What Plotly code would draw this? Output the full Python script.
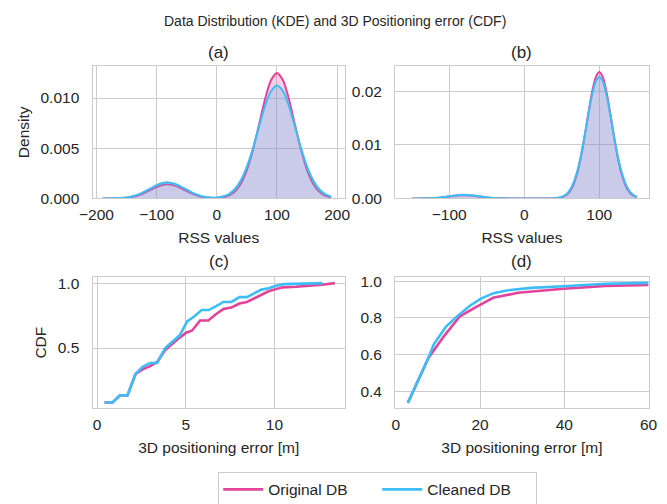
import plotly.graph_objects as go

# ---------------- data ----------------
# (a) KDE of RSS values, database 1
kde_a_x = [-190, -180, -170, -160, -150, -140, -130, -120, -110, -100, -90, -80, -70, -60,
           -50, -40, -30, -20, -10, 0, 10, 20, 30, 40, 50, 60, 70, 80, 90, 100, 110, 120,
           130, 140, 150, 160, 170, 180, 190]
kde_a_original = [0.00000, 0.00000, 0.00001, 0.00003, 0.00007, 0.00016, 0.00032, 0.00056,
                  0.00085, 0.00114, 0.00134, 0.00140, 0.00128, 0.00103, 0.00073, 0.00046,
                  0.00025, 0.00012, 0.00006, 0.00005, 0.00011, 0.00028, 0.00068, 0.00147,
                  0.00282, 0.00482, 0.00731, 0.00984, 0.01176, 0.01248, 0.01176, 0.00984,
                  0.00731, 0.00482, 0.00282, 0.00147, 0.00068, 0.00028, 0.00010]
kde_a_cleaned = [0.00000, 0.00001, 0.00002, 0.00004, 0.00010, 0.00022, 0.00041, 0.00068,
                 0.00100, 0.00132, 0.00154, 0.00160, 0.00147, 0.00120, 0.00087, 0.00056,
                 0.00032, 0.00016, 0.00008, 0.00010, 0.00020, 0.00044, 0.00094, 0.00181,
                 0.00316, 0.00499, 0.00712, 0.00918, 0.01068, 0.01124, 0.01068, 0.00918,
                 0.00712, 0.00499, 0.00316, 0.00181, 0.00094, 0.00044, 0.00019]

# (b) KDE of RSS values, database 2
kde_b_x = [-150, -140, -130, -120, -110, -100, -90, -80, -70, -60, -50, -40, -30, -20, -10,
           0, 10, 20, 30, 40, 45, 50, 55, 60, 65, 70, 75, 80, 85, 90, 95, 100, 105, 110,
           115, 120, 125, 130, 135, 140, 145, 150]
kde_b_original = [0.00000, 0.00001, 0.00003, 0.00008, 0.00020, 0.00036, 0.00053, 0.00060,
                  0.00053, 0.00036, 0.00020, 0.00008, 0.00003, 0.00001, 0.00000, 0.00000,
                  0.00000, 0.00000, 0.00000, 0.00003, 0.00009, 0.00023, 0.00055, 0.00120,
                  0.00242, 0.00443, 0.00738, 0.01122, 0.01553, 0.01960, 0.02253, 0.02360,
                  0.02253, 0.01960, 0.01553, 0.01122, 0.00738, 0.00443, 0.00242, 0.00120,
                  0.00055, 0.00023]
kde_b_cleaned = [0.00000, 0.00001, 0.00003, 0.00009, 0.00022, 0.00041, 0.00060, 0.00068,
                 0.00060, 0.00041, 0.00022, 0.00009, 0.00003, 0.00001, 0.00000, 0.00000,
                 0.00000, 0.00000, 0.00000, 0.00004, 0.00012, 0.00030, 0.00068, 0.00143,
                 0.00273, 0.00478, 0.00770, 0.01136, 0.01538, 0.01909, 0.02174, 0.02270,
                 0.02174, 0.01909, 0.01538, 0.01136, 0.00770, 0.00478, 0.00273, 0.00143,
                 0.00068, 0.00030]

# (c) CDF of 3D positioning error, database 1
cdf_c_x_original = [0.42, 0.87, 1.29, 1.71, 2.17, 2.57, 2.99, 3.39, 3.84, 4.26, 4.66, 5.03,
                    5.36, 5.81, 6.27, 6.72, 7.12, 7.58, 8.03, 8.45, 8.85, 9.27, 9.67, 10.09,
                    10.49, 11.22, 11.95, 12.68, 13.41]
cdf_c_y_original = [0.08, 0.08, 0.135, 0.135, 0.30, 0.335, 0.36, 0.3925, 0.485, 0.535, 0.58,
                    0.6175, 0.635, 0.7125, 0.7125, 0.7625, 0.80, 0.8125, 0.8425, 0.855, 0.88,
                    0.9125, 0.9375, 0.955, 0.9675, 0.9725, 0.9775, 0.9875, 1.0]
cdf_c_x_cleaned = [0.42, 0.87, 1.29, 1.71, 2.17, 2.57, 2.99, 3.39, 3.84, 4.26, 4.66, 5.08,
                   5.48, 5.90, 6.30, 6.72, 7.12, 7.58, 8.03, 8.45, 8.85, 9.27, 9.67, 10.09,
                   10.53, 11.04, 11.77, 12.71]
cdf_c_y_cleaned = [0.08, 0.08, 0.135, 0.135, 0.30, 0.355, 0.385, 0.385, 0.50, 0.5475, 0.5975,
                   0.705, 0.7425, 0.7925, 0.7925, 0.8225, 0.855, 0.855, 0.8925, 0.8925,
                   0.9225, 0.95, 0.96, 0.98, 0.9925, 0.995, 0.997, 1.0]

# (d) CDF of 3D positioning error, database 2
cdf_d_x_original = [2.85, 7.7, 11.3, 15.2, 19.0, 23.1, 29.0, 39.8, 49.8, 60.0]
cdf_d_y_original = [0.337, 0.58, 0.697, 0.809, 0.859, 0.91, 0.937, 0.959, 0.975, 0.98]
cdf_d_x_cleaned = [2.85, 7.7, 9.0, 11.85, 14.8, 17.5, 20.2, 23.2, 26.3, 32.1, 39.8, 49.8, 60.0]
cdf_d_y_cleaned = [0.337, 0.58, 0.656, 0.751, 0.814, 0.865, 0.905, 0.935, 0.95, 0.964, 0.973,
                   0.986, 0.991]

series_names = ["Original DB", "Cleaned DB"]
panel_titles = ["(a)", "(b)", "(c)", "(d)"]
suptitle = "Data Distribution (KDE) and 3D Positioning error (CDF)"

# ---------------- style ----------------
FONT = "Liberation Sans, Arial, Helvetica, sans-serif"
TXT = "#262626"
PINK = "#e2449a"
BLUE = "#3dbdf5"
PINK_FILL = "rgba(226,68,154,0.25)"
BLUE_FILL = "rgba(61,189,245,0.25)"
GRID = "#cccccc"

fig = go.Figure()


def kde(x, y, color, fill, xa, ya):
    fig.add_trace(go.Scatter(
        x=x, y=y, mode="lines", fill="tozeroy", fillcolor=fill,
        line=dict(color=color, width=2, shape="spline", smoothing=0.7),
        xaxis=xa, yaxis=ya, showlegend=False, hoverinfo="skip"))


def cdf(x, y, color, name, xa, ya, show):
    fig.add_trace(go.Scatter(
        x=x, y=y, mode="lines", name=name, legendgroup=name, showlegend=show,
        line=dict(color=color, width=2.6),
        xaxis=xa, yaxis=ya))


kde(kde_a_x, kde_a_original, PINK, PINK_FILL, "x", "y")
kde(kde_a_x, kde_a_cleaned, BLUE, BLUE_FILL, "x", "y")
kde(kde_b_x, kde_b_original, PINK, PINK_FILL, "x2", "y2")
kde(kde_b_x, kde_b_cleaned, BLUE, BLUE_FILL, "x2", "y2")
cdf(cdf_c_x_original, cdf_c_y_original, PINK, series_names[0], "x3", "y3", True)
cdf(cdf_c_x_cleaned, cdf_c_y_cleaned, BLUE, series_names[1], "x3", "y3", True)
cdf(cdf_d_x_original, cdf_d_y_original, PINK, series_names[0], "x4", "y4", False)
cdf(cdf_d_x_cleaned, cdf_d_y_cleaned, BLUE, series_names[1], "x4", "y4", False)

W, H = 667, 504
OFF = 8  # the page body adds an 8 px margin around the figure


def px(x):
    return (x - OFF) / W


def py(y):
    return 1 - (y - OFF) / H


L1, R1 = px(82), px(343)
L2, R2 = px(395), px(657)
TOP_B, TOP_T = py(199), py(63.5)
BOT_B, BOT_T = py(414), py(279.5)

TICK = 15.5


def axis(kind, **kw):
    d = dict(showgrid=True, gridcolor=GRID, gridwidth=1, showline=True, linecolor=GRID,
             linewidth=1.3, mirror=True, zeroline=False, ticks="",
             ticklabelstandoff=(2 if kind == "x" else 9),
             tickfont=dict(size=TICK, color=TXT, family=FONT),
             title_font=dict(size=15.5, color=TXT, family=FONT))
    d.update(kw)
    return d


fig.update_layout(
    width=W, height=H, autosize=False,
    margin=dict(l=0, r=0, t=0, b=0),
    paper_bgcolor="white", plot_bgcolor="white",
    font=dict(family=FONT, color=TXT),
    xaxis=axis("x", domain=[L1, R1], anchor="y", range=[-206.4, 212.9], dtick=100,
               title=dict(text="RSS values", standoff=9)),
    yaxis=axis("y", domain=[TOP_B, TOP_T], anchor="x", range=[0, 0.01317], dtick=0.005,
               tickformat=".3f", title=dict(text="Density", standoff=7)),
    xaxis2=axis("x", domain=[L2, R2], anchor="y2", range=[-172, 165.7], dtick=100,
                title=dict(text="RSS values", standoff=9)),
    yaxis2=axis("y", domain=[TOP_B, TOP_T], anchor="x2", range=[0, 0.0247], dtick=0.01,
                tickformat=".2f"),
    xaxis3=axis("x", domain=[L1, R1], anchor="y3", range=[-0.256, 13.98], dtick=5,
                title=dict(text="3D positioning error [m]", standoff=10)),
    yaxis3=axis("y", domain=[BOT_B, BOT_T], anchor="x3", range=[0.035, 1.047], dtick=0.5,
                tickformat=".1f", title=dict(text="CDF", standoff=7)),
    xaxis4=axis("x", domain=[L2, R2], anchor="y4", range=[-0.15, 60], dtick=20,
                title=dict(text="3D positioning error [m]", standoff=10)),
    yaxis4=axis("y", domain=[BOT_B, BOT_T], anchor="x4", range=[0.307, 1.023], dtick=0.2,
                tickformat=".1f"),
    legend=dict(orientation="h", x=px(212), y=py(479), xanchor="left", yanchor="top",
                bordercolor=GRID, borderwidth=1, bgcolor="white",
                font=dict(size=15.5, color=TXT, family=FONT),
                itemwidth=40, entrywidth=104, entrywidthmode="pixels"),
)

annotations = [dict(text=suptitle, x=px(333), y=py(17), xref="paper", yref="paper",
                    showarrow=False, font=dict(size=14, color=TXT, family=FONT),
                    xanchor="center", yanchor="middle")]
title_pos = [((L1 + R1) / 2, py(49)), ((L2 + R2) / 2, py(49)),
             ((L1 + R1) / 2, py(264)), ((L2 + R2) / 2, py(264))]
for t, (tx, ty) in zip(panel_titles, title_pos):
    annotations.append(dict(text=t, x=tx, y=ty, xref="paper", yref="paper", showarrow=False,
                            font=dict(size=17, color=TXT, family=FONT),
                            xanchor="center", yanchor="middle"))
fig.update_layout(annotations=annotations)

fig.write_html("out.html")
